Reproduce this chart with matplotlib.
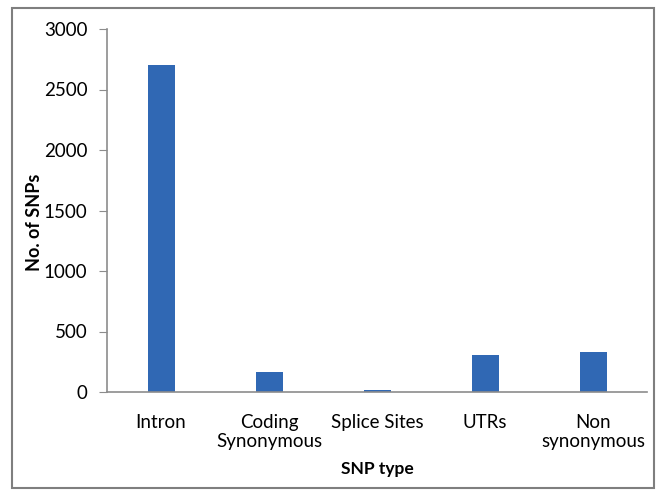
import matplotlib
matplotlib.use('Agg')
import matplotlib.pyplot as plt
from matplotlib.patches import Rectangle

categories = ['Intron', 'Coding\nSynonymous', 'Splice Sites', 'UTRs', 'Non\nsynonymous']
snp_counts = [2700, 165, 18, 305, 330]
yticks = [0, 500, 1000, 1500, 2000, 2500, 3000]

plt.rcParams['font.family'] = ['Lato', 'DejaVu Sans']

fig = plt.figure(figsize=(6.61, 4.92), dpi=100)
ax = fig.add_axes([107/661, 1 - 392/492, 540/661, 363/492])

x = range(len(categories))
ax.bar(x, snp_counts, width=0.25, color='#3068B4')

ax.set_xlim(-0.5, len(categories) - 0.5)
ax.set_ylim(0, 3000)
ax.set_yticks(yticks)
ax.set_xticks(list(x))
ax.set_xticklabels(categories, fontsize=13.5, linespacing=1.15)
ax.tick_params(axis='y', labelsize=13.5, length=6, color='#8c8c8c', pad=8)
ax.tick_params(axis='x', length=0, pad=16)

for s in ['top', 'right']:
    ax.spines[s].set_visible(False)
for s in ['left', 'bottom']:
    ax.spines[s].set_color('#8c8c8c')
    ax.spines[s].set_linewidth(1.2)

ax.set_xlabel('SNP type', fontsize=12.5, fontweight='bold', labelpad=8)
ax.set_ylabel('No. of SNPs', fontsize=13, fontweight='bold')
ax.yaxis.set_label_coords(-0.118, 0.468)

# outer chart border
fig.patches.append(Rectangle((12/661, 4/492), 642/661, 480/492, transform=fig.transFigure,
                             fill=False, edgecolor='#7f7f7f', linewidth=1.5))

fig.savefig('out.png', dpi=100)
